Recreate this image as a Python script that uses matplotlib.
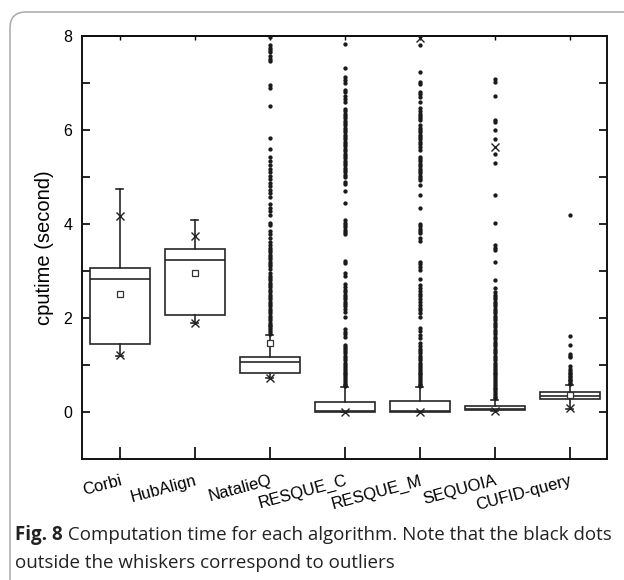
import numpy as np
import matplotlib
matplotlib.use("Agg")
import matplotlib.pyplot as plt
from matplotlib.patches import FancyBboxPatch
from matplotlib.transforms import IdentityTransform

# ---------------- data ----------------
categories = ["Corbi", "HubAlign", "NatalieQ", "RESQUE_C", "RESQUE_M", "SEQUOIA", "CUFID-query"]
q1 = [1.45, 2.06, 0.82, 0.01, 0.01, 0.04, 0.28]
median = [2.82, 3.23, 1.06, 0.03, 0.03, 0.07, 0.35]
q3 = [3.06, 3.47, 1.16, 0.22, 0.24, 0.13, 0.42]
whisk_lo = [1.20, 1.89, 0.73, 0.0, 0.0, 0.02, 0.07]
whisk_hi = [4.74, 4.08, 1.64, 0.54, 0.54, 0.26, 0.57]
means = [2.51, 2.95, 1.47, np.nan, np.nan, np.nan, 0.36]
pct_hi = [4.18, 3.75, np.nan, np.nan, 7.96, 5.63, np.nan]   # "x" markers (upper)
pct_lo = [1.22, 1.90, 0.73, 0.0, 0.0, 0.02, 0.09]          # "x" markers (lower)

out_corbi = []
out_hubalign = []
out_natalieq = [7.98, 7.80, 7.75, 7.70, 7.65, 7.58, 7.52, 7.46, 6.95, 6.90, 6.52, 5.83,
                5.60, 5.42, 5.33, 5.25, 5.18, 5.10, 5.02, 4.95, 4.88, 4.80, 4.73, 4.65,
                4.58, 4.42, 4.35, 4.28, 4.20, 4.02, 3.97, 3.85, 3.78, 3.70, 3.62, 3.55,
                3.50, 3.45, 3.40, 3.35, 3.30, 3.25, 3.20, 3.15, 3.10, 3.05, 2.95, 2.90,
                2.85, 2.80, 2.75, 2.70, 2.65, 2.60, 2.55, 2.50, 2.45, 2.40, 2.35, 2.30,
                2.25, 2.20, 2.15, 2.10, 2.05, 2.00, 1.95, 1.90, 1.86, 1.82, 1.78, 1.74,
                1.70, 1.67]
out_resque_c = [7.84, 7.31, 7.12, 7.06, 7.00, 6.85, 6.80, 6.72, 6.65, 6.60, 6.45, 6.40,
                6.35, 6.30, 6.25, 6.20, 6.15, 6.10, 6.05, 6.00, 5.95, 5.90, 5.85, 5.80,
                5.75, 5.70, 5.65, 5.60, 5.55, 5.50, 5.45, 5.40, 5.35, 5.30, 5.25, 5.20,
                5.15, 5.10, 5.05, 5.00, 4.90, 4.85, 4.70, 4.44, 4.08, 4.03, 3.98, 3.93,
                3.88, 3.83, 3.78, 3.22, 3.17, 2.95, 2.90, 2.72, 2.66, 2.60, 2.55, 2.50,
                2.45, 2.40, 2.35, 2.30, 2.25, 2.20, 2.12, 2.03, 1.76, 1.70, 1.65, 1.60,
                1.42, 1.38, 1.34, 1.30, 1.25, 1.20, 1.15, 1.10, 1.05, 1.00, 0.96, 0.92,
                0.88, 0.84, 0.80, 0.76, 0.72, 0.68, 0.64, 0.60, 0.57, 0.55]
out_resque_m = [7.81, 7.24, 7.03, 6.98, 6.81, 6.76, 6.70, 6.60, 6.46, 6.40, 6.35, 6.30,
                6.25, 6.21, 6.10, 6.05, 6.00, 5.95, 5.90, 5.85, 5.80, 5.75, 5.70, 5.64,
                5.58, 5.43, 5.38, 5.33, 5.28, 5.23, 5.18, 5.13, 5.08, 5.03, 4.98, 4.94,
                4.83, 4.62, 4.33, 4.01, 3.96, 3.90, 3.85, 3.80, 3.70, 3.64, 3.20, 3.14,
                3.08, 3.02, 2.84, 2.70, 2.64, 2.58, 2.52, 2.46, 2.40, 2.34, 2.28, 2.22,
                2.16, 2.10, 2.03, 1.78, 1.72, 1.64, 1.57, 1.46, 1.40, 1.35, 1.30, 1.25,
                1.20, 1.15, 1.10, 1.05, 1.00, 0.96, 0.92, 0.88, 0.84, 0.80, 0.76, 0.72,
                0.68, 0.64, 0.60, 0.57, 0.55]
out_sequoia = [7.08, 7.02, 6.72, 6.22, 6.17, 6.00, 5.81, 5.49, 5.30, 4.62, 4.03, 3.56,
               3.50, 3.44, 3.20, 2.81, 2.63, 2.55, 2.50, 2.45, 2.40, 2.35, 2.30, 2.25,
               2.20, 2.15, 2.10, 2.05, 2.00, 1.95, 1.90, 1.85, 1.80, 1.75, 1.70, 1.65,
               1.60, 1.55, 1.50, 1.45, 1.40, 1.35, 1.30, 1.25, 1.20, 1.15, 1.10, 1.05,
               1.00, 0.96, 0.92, 0.88, 0.84, 0.80, 0.76, 0.72, 0.68, 0.64, 0.60, 0.56,
               0.52, 0.48, 0.44, 0.40, 0.36, 0.32, 0.29]
out_cufid = [4.19, 1.62, 1.43, 1.23, 1.19, 1.16, 0.97, 0.92, 0.88, 0.84, 0.80, 0.77,
             0.74, 0.71, 0.68, 0.65, 0.62, 0.60]
outliers = [out_corbi, out_hubalign, out_natalieq, out_resque_c, out_resque_m,
            out_sequoia, out_cufid]

y_label = "cputime (second)"
caption_bold = "Fig. 8"
caption_line1 = " Computation time for each algorithm. Note that the black dots"
caption_line2 = "outside the whiskers correspond to outliers"

# ---------------- figure ----------------
W, H = 624, 580
fig = plt.figure(figsize=(W / 100, H / 100), dpi=100)

# rounded frame (only top and left edges are visible)
frame = FancyBboxPatch((10, -60), 700, H - 12 + 60,
                       boxstyle="round,pad=0,rounding_size=16",
                       transform=IdentityTransform(), facecolor="none",
                       edgecolor="#a8a8a8", linewidth=1.1, zorder=0)
fig.patches.append(frame)

ax = fig.add_axes([82 / W, 1 - 459 / H, (607 - 82) / W, (459 - 36) / H])
positions = np.arange(1, len(categories) + 1)

stats = []
for i in range(len(categories)):
    stats.append(dict(med=median[i], q1=q1[i], q3=q3[i], whislo=whisk_lo[i],
                      whishi=whisk_hi[i], mean=means[i], fliers=outliers[i],
                      label=categories[i]))

ec = "#262626"
ax.bxp(stats, positions=positions, widths=0.8, showmeans=True, patch_artist=True,
       capwidths=0.1,
       boxprops=dict(facecolor="white", edgecolor=ec, linewidth=1.2),
       medianprops=dict(color=ec, linewidth=1.2),
       whiskerprops=dict(color=ec, linewidth=1.2),
       capprops=dict(color=ec, linewidth=1.2),
       meanprops=dict(marker="s", markerfacecolor="white", markeredgecolor="#333333",
                      markersize=5, markeredgewidth=0.9),
       flierprops=dict(marker="o", markerfacecolor="#1a1a1a", markeredgecolor="#1a1a1a",
                       markersize=2.1, linestyle="none"))

ax.plot(positions, pct_hi, linestyle="none", marker="x", color="#222222",
        markersize=6, markeredgewidth=1.0, zorder=5)
ax.plot(positions, pct_lo, linestyle="none", marker="x", color="#222222",
        markersize=6, markeredgewidth=1.0, zorder=5)

ax.set_xlim(0.5, 7.5)
ax.set_ylim(-1, 8)
ax.set_yticks([0, 2, 4, 6, 8])
ax.set_yticks([1, 3, 5, 7], minor=True)
ax.set_xticks(positions)
ax.set_xticklabels(categories, rotation=15, ha="right", va="top",
                   rotation_mode="anchor", fontsize=12, family="Liberation Sans")
for lab in ax.get_yticklabels():
    lab.set_family("Liberation Sans")
ax.tick_params(axis="y", which="both", direction="in", length=6, width=1.2,
               right=True, labelsize=11.5, pad=7)
ax.tick_params(axis="x", which="major", direction="in", length=9, width=1.2,
               top=False, pad=10)
top = ax.secondary_xaxis("top")
top.set_xticks(positions)
top.tick_params(direction="in", length=3, width=1.0, labeltop=False)
top.spines["top"].set_linewidth(1.4)
ax.set_ylabel(y_label, fontsize=14.5, family="Liberation Sans", labelpad=7)
for s in ax.spines.values():
    s.set_linewidth(1.4)
    s.set_color("#111111")

# ---------------- caption ----------------
cap_family = "Open Sans"
cap_fs = 12.5
x0 = 15
target_right = 613
y1 = 1 - 535 / H
y2 = 1 - 563 / H
tb = fig.text(x0 / W, y1, caption_bold, fontsize=cap_fs, fontweight="bold",
              family=cap_family, va="center", ha="left", color="#222222")
t1 = fig.text(0, y1, caption_line1, fontsize=cap_fs, family=cap_family,
              va="center", ha="left", color="#222222")
fig.canvas.draw()
total = tb.get_window_extent().width + t1.get_window_extent().width
cap_fs = cap_fs * (target_right - x0) / total
tb.set_fontsize(cap_fs)
t1.set_fontsize(cap_fs)
fig.canvas.draw()
t1.set_x(tb.get_window_extent().x1 / W)
fig.text(x0 / W, y2, caption_line2, fontsize=cap_fs, family=cap_family,
         va="center", ha="left", color="#222222")

fig.savefig("out.png", dpi=100)
